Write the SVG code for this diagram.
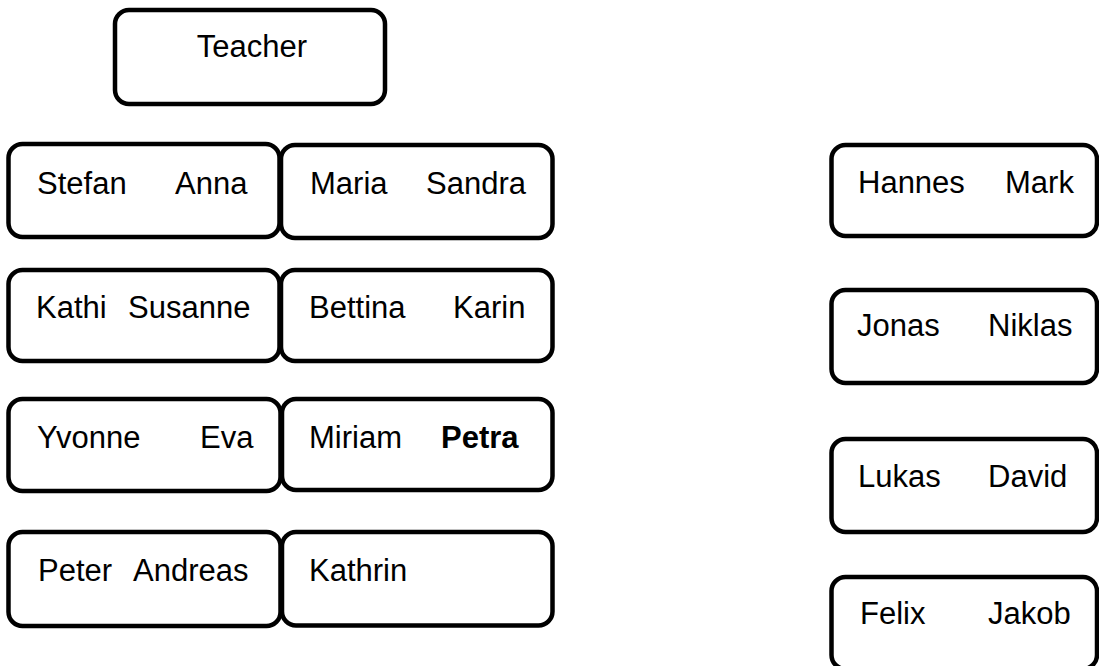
<svg xmlns="http://www.w3.org/2000/svg" width="1099" height="666" viewBox="0 0 1099 666">
<style>
.box{fill:#fff;stroke:#000;stroke-width:4.5}
text{font-family:"Liberation Sans",Arial,sans-serif;font-size:31px;fill:#000}
.b{font-weight:bold}
</style>
<rect width="1099" height="666" fill="#fff"/>
<g id="teacher"><rect class="box" x="115" y="10" width="270" height="94" rx="14"/><text x="252" y="57" text-anchor="middle">Teacher</text></g>
<g id="stefan-anna"><rect class="box" x="8.5" y="144" width="271" height="93" rx="14"/><text x="37" y="194">Stefan</text><text x="175" y="194">Anna</text></g>
<g id="maria-sandra"><rect class="box" x="281" y="145" width="271.5" height="93" rx="14"/><text x="310" y="194">Maria</text><text x="426" y="194">Sandra</text></g>
<g id="kathi-susanne"><rect class="box" x="8.5" y="270" width="271" height="91" rx="14"/><text x="36" y="318">Kathi</text><text x="128" y="318">Susanne</text></g>
<g id="bettina-karin"><rect class="box" x="281" y="270" width="271.5" height="91" rx="14"/><text x="309" y="318">Bettina</text><text x="453" y="318">Karin</text></g>
<g id="yvonne-eva"><rect class="box" x="8.5" y="399" width="272" height="92" rx="14"/><text x="37" y="448">Yvonne</text><text x="200" y="448">Eva</text></g>
<g id="miriam-petra"><rect class="box" x="282" y="399" width="270.5" height="91" rx="14"/><text x="309" y="448">Miriam</text><text class="b" x="441" y="448">Petra</text></g>
<g id="peter-andreas"><rect class="box" x="8.5" y="532" width="272" height="94" rx="14"/><text x="38" y="581">Peter</text><text x="133" y="581">Andreas</text></g>
<g id="kathrin"><rect class="box" x="282" y="532" width="270.5" height="93.5" rx="14"/><text x="309" y="581">Kathrin</text></g>
<g id="hannes-mark"><rect class="box" x="831.5" y="145" width="265.5" height="91" rx="14"/><text x="858" y="193">Hannes</text><text x="1005" y="193">Mark</text></g>
<g id="jonas-niklas"><rect class="box" x="831.5" y="290" width="265.5" height="93" rx="14"/><text x="857" y="336">Jonas</text><text x="988" y="336">Niklas</text></g>
<g id="lukas-david"><rect class="box" x="831.5" y="439" width="265.5" height="93" rx="14"/><text x="858" y="487">Lukas</text><text x="988" y="487">David</text></g>
<g id="felix-jakob"><rect class="box" x="831.5" y="577" width="265.5" height="92" rx="14"/><text x="860" y="624">Felix</text><text x="988" y="624">Jakob</text></g>
<g id="connectors"/>
</svg>
